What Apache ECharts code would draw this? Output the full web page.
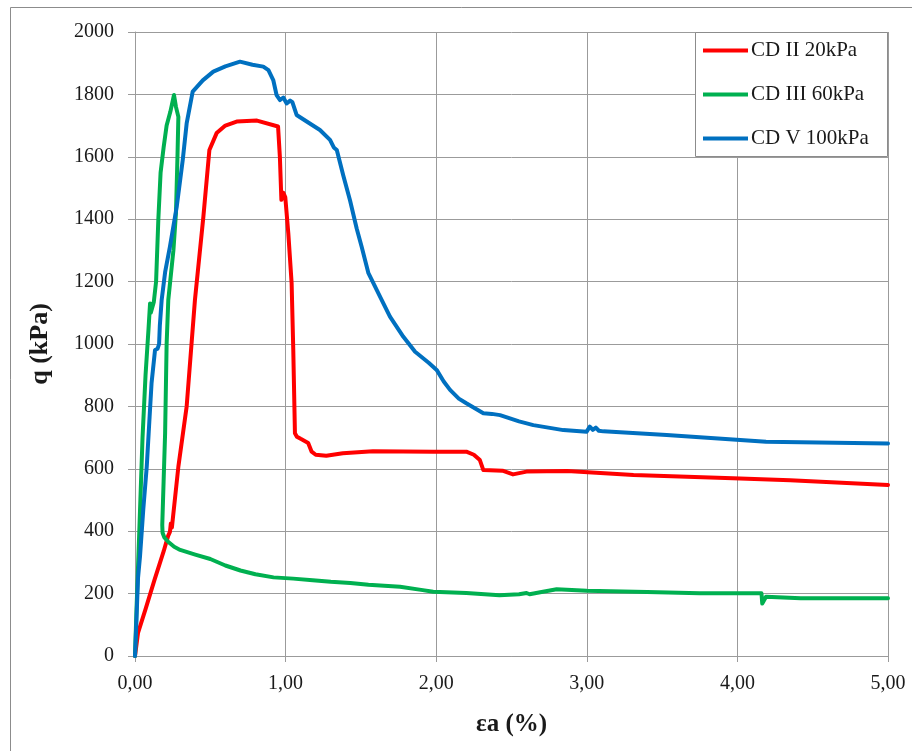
<!DOCTYPE html>
<html>
<head>
<meta charset="utf-8">
<script src="https://cdn.jsdelivr.net/npm/echarts@6/dist/echarts.min.js"></script>
<style>
  html, body { margin: 0; padding: 0; background: #ffffff; }
  #chart { width: 912px; height: 751px; }
</style>
</head>
<body>
<div id="chart"></div>
<script>
// Deviator stress q (kPa) versus axial strain εa (%) for three CD triaxial tests
const seriesNames = ['CD II 20kPa', 'CD III 60kPa', 'CD V 100kPa'];
const seriesColors = ['#ff0000', '#00b050', '#0070c0'];

const strainTicks = ['0,00', '1,00', '2,00', '3,00', '4,00', '5,00'];

// CD II 20kPa
const cd2Strain = [0, 0.02, 0.07, 0.13, 0.19, 0.22, 0.232, 0.238, 0.245, 0.288, 0.343, 0.398, 0.454, 0.494, 0.542, 0.60, 0.675, 0.81, 0.95, 0.962, 0.972, 0.985, 0.998, 1.018, 1.04, 1.051, 1.062, 1.075, 1.10, 1.15, 1.162, 1.173, 1.20, 1.27, 1.38, 1.58, 1.98, 2.20, 2.25, 2.29, 2.313, 2.44, 2.51, 2.60, 2.87, 3.31, 3.97, 4.35, 4.36, 5.00];
const cd2Q      = [0, 74, 150, 245, 335, 385, 398, 425, 412, 607, 800, 1141, 1408, 1622, 1676, 1700, 1713, 1716, 1697, 1600, 1462, 1485, 1470, 1355, 1195, 980, 714, 703, 696, 683, 680, 655, 645, 642, 650, 656, 655, 655, 645, 628, 596, 594, 582, 591, 593, 580, 570, 563, 566, 548];

// CD III 60kPa
const cd3Strain = [0, 0.01, 0.03, 0.05, 0.07, 0.09, 0.10, 0.105, 0.115, 0.125, 0.14, 0.155, 0.17, 0.19, 0.21, 0.235, 0.259, 0.272, 0.288, 0.282, 0.272, 0.255, 0.221, 0.21, 0.20, 0.19, 0.181, 0.183, 0.195, 0.22, 0.26, 0.30, 0.40, 0.50, 0.60, 0.70, 0.80, 0.92, 1.05, 1.18, 1.30, 1.43, 1.55, 1.76, 1.90, 1.98, 2.20, 2.42, 2.55, 2.60, 2.62, 2.70, 2.80, 3.00, 3.40, 3.75, 4.16, 4.165, 4.19, 4.42, 5.00];
const cd3Q      = [0, 150, 420, 700, 900, 1050, 1130, 1100, 1105, 1135, 1200, 1400, 1550, 1630, 1700, 1745, 1798, 1760, 1728, 1600, 1420, 1300, 1141, 1000, 715, 560, 420, 395, 380, 366, 350, 340, 325, 311, 290, 274, 262, 252, 248, 243, 238, 234, 228, 222, 212, 206, 202, 195, 198, 202, 198, 205, 214, 209, 205, 201, 201, 168, 190, 185, 185];

// CD V 100kPa
const cd5Strain = [0, 0.01, 0.02, 0.033, 0.055, 0.078, 0.095, 0.11, 0.133, 0.15, 0.16, 0.165, 0.177, 0.20, 0.232, 0.277, 0.317, 0.343, 0.383, 0.45, 0.52, 0.60, 0.697, 0.78, 0.852, 0.886, 0.918, 0.94, 0.963, 0.985, 1.007, 1.03, 1.045, 1.073, 1.14, 1.228, 1.295, 1.32, 1.34, 1.383, 1.428, 1.472, 1.505, 1.55, 1.627, 1.693, 1.782, 1.86, 1.95, 2.003, 2.05, 2.092, 2.15, 2.20, 2.313, 2.37, 2.424, 2.55, 2.645, 2.844, 2.999, 3.02, 3.04, 3.06, 3.08, 3.11, 3.53, 3.97, 4.19, 5.00];
const cd5Q      = [0, 120, 250, 318, 470, 607, 750, 875, 981, 985, 1000, 1060, 1141, 1230, 1312, 1440, 1590, 1707, 1809, 1845, 1873, 1890, 1905, 1895, 1889, 1878, 1846, 1798, 1782, 1790, 1771, 1780, 1775, 1734, 1713, 1686, 1654, 1630, 1622, 1540, 1460, 1370, 1312, 1227, 1152, 1088, 1023, 975, 940, 917, 880, 853, 825, 810, 778, 776, 772, 752, 740, 724, 719, 735, 725, 732, 722, 720, 708, 694, 687, 681];

const pairs = (xs, ys) => xs.map((x, i) => [x, ys[i]]);
const curves = [pairs(cd2Strain, cd2Q), pairs(cd3Strain, cd3Q), pairs(cd5Strain, cd5Q)];

const serif = '"Liberation Serif", "Times New Roman", serif';
const gridColor = '#9b9b9b';

const chart = echarts.init(document.getElementById('chart'), null, { renderer: 'canvas' });

chart.setOption({
  animation: false,
  backgroundColor: '#ffffff',
  textStyle: { fontFamily: serif },
  grid: { left: 135, right: 24, top: 32, bottom: 95, containLabel: false },
  graphic: [
    {
      // chart-area frame
      type: 'rect', z: 0, silent: true,
      shape: { x: 10.5, y: 7.5, width: 1200, height: 1200 },
      style: { fill: 'none', stroke: '#8c8c8c', lineWidth: 1 }
    },
    {
      // legend box
      type: 'rect', z: 3, silent: true,
      shape: { x: 695.5, y: 32.5, width: 192, height: 124 },
      style: { fill: '#ffffff', stroke: '#8c8c8c', lineWidth: 1 }
    }
  ],
  legend: {
    orient: 'vertical',
    left: 703, top: 40,
    padding: 0,
    itemGap: 23,
    itemWidth: 45, itemHeight: 4,
    icon: 'rect',
    z: 5,
    textStyle: { fontFamily: serif, fontSize: 21, color: '#1a1a1a', padding: [0, 0, 0, -2] },
    data: seriesNames
  },
  xAxis: {
    type: 'value', min: 0, max: 5, interval: 1,
    name: 'εa (%)', nameLocation: 'middle', nameGap: 56,
    nameTextStyle: { fontFamily: serif, fontSize: 25, fontWeight: 'bold', color: '#1a1a1a' },
    axisLine: { show: true, onZero: false, lineStyle: { color: gridColor, width: 1 } },
    axisTick: { show: true, length: 6, lineStyle: { color: gridColor } },
    axisLabel: {
      fontFamily: serif, fontSize: 20, color: '#1a1a1a', margin: 18,
      formatter: v => strainTicks[Math.round(v)]
    },
    splitLine: { show: true, lineStyle: { color: gridColor, width: 1 } }
  },
  yAxis: {
    type: 'value', min: 0, max: 2000, interval: 200,
    name: 'q (kPa)', nameLocation: 'middle', nameGap: 82, nameRotate: 90,
    nameTextStyle: { fontFamily: serif, fontSize: 26, fontWeight: 'bold', color: '#1a1a1a' },
    axisLine: { show: true, lineStyle: { color: gridColor, width: 1 } },
    axisTick: { show: true, length: 7, lineStyle: { color: gridColor } },
    axisLabel: { fontFamily: serif, fontSize: 20, color: '#1a1a1a', margin: 21, formatter: v => String(v) },
    splitLine: { show: true, lineStyle: { color: gridColor, width: 1 } }
  },
  series: curves.map((data, i) => ({
    name: seriesNames[i],
    type: 'line',
    data: data,
    color: seriesColors[i],
    showSymbol: false,
    symbol: 'none',
    lineStyle: { width: 4, color: seriesColors[i], join: 'round', cap: 'round' },
    z: 2
  }))
});
</script>
</body>
</html>
